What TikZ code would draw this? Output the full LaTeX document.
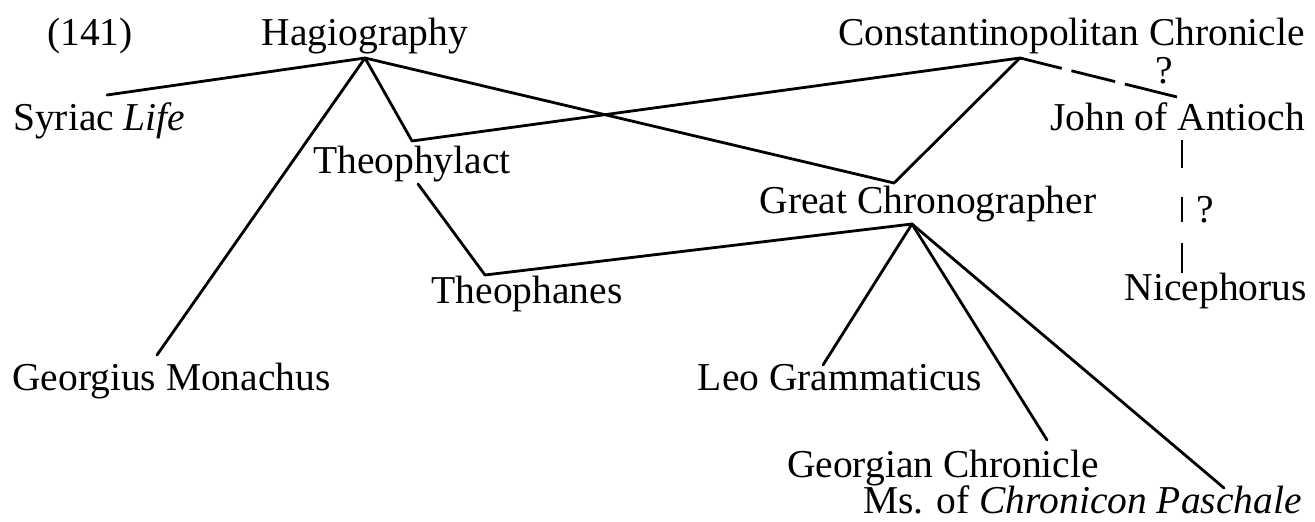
\documentclass[tikz,border=0pt]{standalone}
\usepackage{fontspec}
\setmainfont{Liberation Serif}
\begin{document}
\begin{tikzpicture}[x=1pt,y=-1pt,
  lbl/.style={inner sep=0pt, font=\fontsize{39.5}{46}\selectfont},
  link/.style={line width=2.8pt, line cap=round, line join=round},
  dlinkA/.style={link, line cap=butt, dash pattern=on 43pt off 10pt on 45pt off 10pt on 80pt},
  dlinkB/.style={link, line cap=butt, dash pattern=on 28pt off 29pt on 25pt off 21pt on 60pt}]
\useasboundingbox (0,0) rectangle (1315,522);
\node[lbl, anchor=base] (n141) at (90,45) {(141)};
\node[lbl, anchor=base] (hag) at (365,45) {Hagiography};
\node[lbl, anchor=base east] (con) at (1305,45) {Constantinopolitan Chronicle};
\node[lbl, anchor=base west] (syr) at (13,130) {Syriac \textit{Life}};
\node[lbl, anchor=base east] (john) at (1305,130) {John of Antioch};
\node[lbl, anchor=base] (theo) at (412,173) {Theophylact};
\node[lbl, anchor=base] (gc) at (928,213) {Great Chronographer};
\node[lbl, anchor=base] (tph) at (527,303) {Theophanes};
\node[lbl, anchor=base east] (nic) at (1307,300) {Nicephorus};
\node[lbl, anchor=base west] (geo) at (12,390) {Georgius Monachus};
\node[lbl, anchor=base] (leo) at (840,390) {Leo Grammaticus};
\node[lbl, anchor=base] (gch) at (943,477) {Georgian Chronicle};
\node[lbl, anchor=base east] (ms) at (1302,513) {Ms. of \textit{Chronicon Paschale}};
\node[lbl, anchor=base] (q1) at (1164,83) {?};
\node[lbl, anchor=base] (q2) at (1205,222) {?};
\coordinate (hA) at (365,58);
\coordinate (cA) at (1020,58);
\coordinate (sE) at (107,95);
\coordinate (j1) at (412,141);
\coordinate (tS) at (418,184);
\coordinate (j2) at (485,275);
\coordinate (j3) at (894,183);
\coordinate (j4) at (912,224);
\coordinate (gE) at (157,355);
\coordinate (lE) at (823,365);
\coordinate (gcE) at (1047,440);
\coordinate (mE) at (1224,488);
\coordinate (dE) at (1177,97);
\coordinate (vT) at (1182,140);
\coordinate (vB) at (1182,273);
\draw[link] (hA) -- (sE);
\draw[link] (hA) -- (j1) -- (cA);
\draw[link] (hA) -- (j3) -- (cA);
\draw[link] (hA) -- (gE);
\draw[link] (tS) -- (j2) -- (j4);
\draw[link] (j4) -- (lE);
\draw[link] (j4) -- (gcE);
\draw[link] (j4) -- (mE);
\draw[dlinkA] (cA) -- (dE);
\draw[dlinkB] (vT) -- (vB);
\end{tikzpicture}
\end{document}
